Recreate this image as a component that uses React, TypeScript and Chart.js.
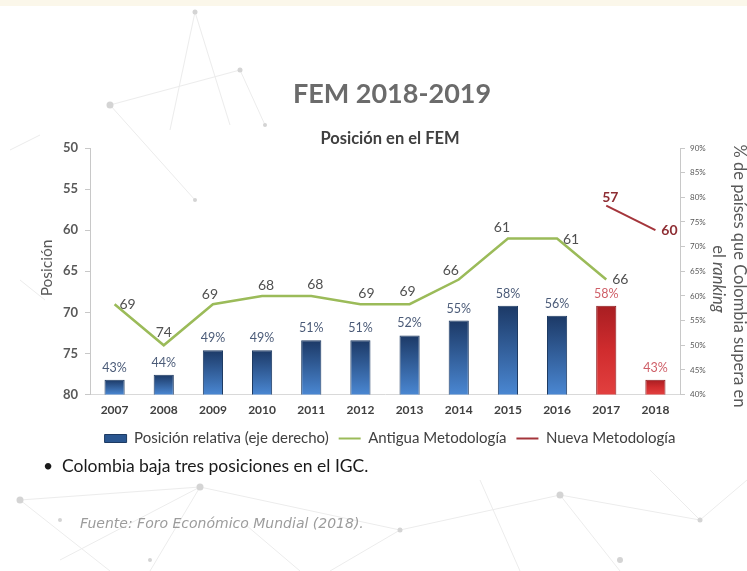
import React, { useEffect, useRef } from "react";
import { Chart, registerables } from "chart.js";

Chart.register(...registerables);

const years = ["2007", "2008", "2009", "2010", "2011", "2012", "2013", "2014", "2015", "2016", "2017", "2018"];
const posicionRelativa = [43, 44, 49, 49, 51, 51, 52, 55, 58, 56, 58, 43];
const antiguaMetodologia: (number | null)[] = [69, 74, 69, 68, 68, 69, 69, 66, 61, 61, 66, null];
const nuevaMetodologia: (number | null)[] = [null, null, null, null, null, null, null, null, null, null, 57, 60];

const seriesNames = ["Posición relativa (eje derecho)", "Antigua Metodología", "Nueva Metodología"];

// label placement (style only)
const antiguaLabelOffsets = [[13, 0], [0, -13], [-3, -10], [4, -10], [4, -11], [6, -11], [-2, -13], [-8, -9], [-6, -11], [14, 1], [14, 0], [0, 0]];
const nuevaLabelOffsets = [[0, 0], [0, 0], [0, 0], [0, 0], [0, 0], [0, 0], [0, 0], [0, 0], [0, 0], [0, 0], [4, -8], [14, 0]];

const GREEN = "#9bbb59";
const DARKRED = "#a4353b";

const labelPlugin = {
  id: "valueLabels",
  afterDatasetsDraw(chart: any) {
    const ctx = chart.ctx;
    ctx.save();
    ctx.textAlign = "center";
    ctx.textBaseline = "middle";
    chart.data.datasets.forEach((ds: any, di: number) => {
      const meta = chart.getDatasetMeta(di);
      meta.data.forEach((el: any, j: number) => {
        const v = ds.data[j];
        if (v === null || v === undefined) return;
        if (di === 0) {
          ctx.font = "12.5px Lato";
          ctx.fillStyle = j >= 10 ? "#cf5f68" : "#4b5b78";
          ctx.fillText(v + "%", el.x, el.y - 12);
        } else if (di === 1) {
          const o = antiguaLabelOffsets[j];
          ctx.font = "14px Lato";
          ctx.fillStyle = "#505050";
          ctx.fillText(String(v), el.x + o[0], el.y + o[1]);
        } else {
          const o = nuevaLabelOffsets[j];
          ctx.font = "bold 14px Lato";
          ctx.fillStyle = "#8e2d33";
          ctx.fillText(String(v), el.x + o[0], el.y + o[1]);
        }
      });
    });
    ctx.restore();
  },
};

function barFill(ctx: any) {
  const chart = ctx.chart;
  const area = chart.chartArea;
  const red = ctx.dataIndex >= 10;
  if (!area || ctx.type !== "data" || !chart.scales.y1) return red ? "#c9282c" : "#2f5f9f";
  const top = chart.scales.y1.getPixelForValue(ctx.raw);
  const g = chart.ctx.createLinearGradient(0, top, 0, area.bottom);
  if (red) {
    g.addColorStop(0, "#a81e22");
    g.addColorStop(0.5, "#d02c2e");
    g.addColorStop(1, "#e2403f");
  } else {
    g.addColorStop(0, "#1c3966");
    g.addColorStop(1, "#4a87d2");
  }
  return g;
}

function Background() {
  const lines = [
    [110, 105, 240, 70], [110, 105, 195, 200], [195, 12, 170, 130], [195, 12, 230, 125], [240, 70, 265, 125],
    [10, 150, 40, 135], [20, 280, 45, 300],
    [20, 500, 200, 487], [20, 500, 110, 571], [200, 487, 400, 530], [200, 487, 150, 571], [400, 530, 560, 495],
    [400, 530, 330, 571], [560, 495, 700, 520], [560, 495, 620, 571], [700, 520, 747, 480], [240, 520, 300, 571],
    [60, 560, 200, 487], [480, 480, 520, 571], [650, 470, 700, 520],
  ];
  const dots = [
    [110, 105, 3.5], [240, 70, 2.5], [195, 12, 2.5], [195, 200, 2], [265, 125, 2],
    [20, 500, 3.5], [200, 487, 3.5], [400, 530, 2.5], [560, 495, 3.5], [700, 520, 2.5], [150, 560, 2], [620, 560, 3], [60, 520, 2],
  ];
  return (
    <svg width={747} height={571} style={{ position: "absolute", left: 0, top: 0 }}>
      <rect x={0} y={0} width={747} height={6} fill="#fbf7ea" />
      {lines.map((l, i) => (
        <line key={i} x1={l[0]} y1={l[1]} x2={l[2]} y2={l[3]} stroke="#ececec" strokeWidth={1} />
      ))}
      {dots.map((d, i) => (
        <circle key={i} cx={d[0]} cy={d[1]} r={d[2]} fill="#d4d4d4" />
      ))}
    </svg>
  );
}

export default function App() {
  const canvasRef = useRef<HTMLCanvasElement | null>(null);

  useEffect(() => {
    if (!canvasRef.current) return;
    Chart.defaults.font.family = "Lato, 'Noto Sans', sans-serif";
    const chart = new Chart(canvasRef.current, {
      type: "bar",
      data: {
        labels: years,
        datasets: [
          {
            type: "bar",
            label: seriesNames[0],
            data: posicionRelativa,
            yAxisID: "y1",
            backgroundColor: barFill as any,
            borderColor: (c: any) => (c.dataIndex >= 10 ? "#8c1a1d" : "#1d3a62"),
            borderWidth: 1,
            categoryPercentage: 1,
            barPercentage: 0.41,
          },
          {
            type: "line",
            label: seriesNames[1],
            data: antiguaMetodologia,
            yAxisID: "y",
            borderColor: GREEN,
            backgroundColor: GREEN,
            borderWidth: 2.5,
            pointRadius: 0,
            tension: 0,
          },
          {
            type: "line",
            label: seriesNames[2],
            data: nuevaMetodologia,
            yAxisID: "y",
            borderColor: DARKRED,
            backgroundColor: DARKRED,
            borderWidth: 2,
            pointRadius: 0,
            tension: 0,
          },
        ] as any,
      },
      options: {
        animation: false,
        responsive: false,
        maintainAspectRatio: false,
        layout: { padding: { left: 60, right: 27, top: 148, bottom: 115 } },
        plugins: {
          title: { display: false },
          tooltip: { enabled: false },
          legend: {
            display: true,
            position: "bottom",
            labels: {
              usePointStyle: true,
              pointStyleWidth: 22,
              boxHeight: 8,
              padding: 10,
              color: "#404040",
              font: { size: 15, family: "Lato" },
              generateLabels: (ch: any) => {
                const items = Chart.defaults.plugins.legend.labels.generateLabels(ch);
                return items.map((it: any, i: number) => {
                  if (i === 0) {
                    return { ...it, pointStyle: "rect", fillStyle: "#2a5690", strokeStyle: "#1d3a62", lineWidth: 1 };
                  }
                  const col = i === 1 ? GREEN : DARKRED;
                  return { ...it, pointStyle: "line", strokeStyle: col, fillStyle: col, lineWidth: 2 };
                });
              },
            },
          },
        },
        scales: {
          x: {
            grid: { display: true, drawOnChartArea: false, drawTicks: false },
            border: { display: true, color: "#d9d9d9" },
            ticks: { color: "#404040", font: { size: 12, weight: "bold" }, padding: 8 },
            afterFit: (s: any) => {
              s.height = s.height - 4;
            },
          },
          y: {
            position: "left",
            reverse: true,
            min: 50,
            max: 80,
            ticks: { stepSize: 5, color: "#595959", font: { size: 13, weight: "bold" }, padding: 7 },
            grid: { display: true, drawOnChartArea: false, drawTicks: true, tickLength: 5, color: "#c8c8c8" },
            border: { display: true, color: "#c8c8c8" },
            title: { display: false },
            afterFit: (s: any) => {
              s.width = 30;
            },
          },
          y1: {
            position: "right",
            min: 40,
            max: 90,
            ticks: { stepSize: 5, color: "#595959", font: { size: 8 }, padding: 5, callback: (v: any) => v + "%" },
            grid: { display: true, drawOnChartArea: false, drawTicks: true, tickLength: 5, color: "#c8c8c8" },
            border: { display: true, color: "#c8c8c8" },
            afterFit: (s: any) => {
              s.width = 40;
            },
          },
        },
      },
      plugins: [labelPlugin],
    } as any);
    return () => chart.destroy();
  }, []);

  const abs: React.CSSProperties = { position: "absolute", whiteSpace: "nowrap", fontFamily: "Lato, sans-serif" };

  return (
    <div style={{ position: "absolute", left: 0, top: 0, width: 747, height: 571, background: "#ffffff", overflow: "hidden" }}>
      <Background />
      <canvas ref={canvasRef} width={747} height={571} style={{ position: "absolute", left: 0, top: 0, width: 747, height: 571 }} />
      <div style={{ ...abs, left: 392, top: 92, transform: "translate(-50%, -50%)", fontSize: 27, fontWeight: 700, color: "#6b6b6b" }}>
        FEM 2018-2019
      </div>
      <div style={{ ...abs, left: 390, top: 138, transform: "translate(-50%, -50%)", fontSize: 16.5, fontWeight: 700, color: "#404040" }}>
        Posición en el FEM
      </div>
      <div style={{ ...abs, left: 46, top: 268, transform: "translate(-50%, -50%) rotate(-90deg)", fontSize: 15.5, color: "#595959" }}>
        Posición
      </div>
      <div style={{ ...abs, left: 740, top: 276, transform: "translate(-50%, -50%) rotate(90deg)", fontSize: 16.5, color: "#595959" }}>
        % de países que Colombia supera en
      </div>
      <div style={{ ...abs, left: 719, top: 279, transform: "translate(-50%, -50%) rotate(90deg)", fontSize: 16.5, color: "#595959" }}>
        el <i>ranking</i>
      </div>
      <div style={{ ...abs, left: 43, top: 465, transform: "translateY(-50%)", fontSize: 17.5, color: "#1a1a1a" }}>
        •
      </div>
      <div style={{ ...abs, left: 62, top: 465, transform: "translateY(-50%)", fontSize: 17.5, color: "#1a1a1a" }}>
        Colombia baja tres posiciones en el IGC.
      </div>
      <div
        style={{
          ...abs,
          left: 80,
          top: 523,
          transform: "translateY(-50%)",
          fontSize: 14,
          fontStyle: "italic",
          color: "#9c9c9c",
          fontFamily: "'DejaVu Sans', sans-serif",
          fontWeight: 300,
        }}
      >
        Fuente: Foro Económico Mundial (2018).
      </div>
    </div>
  );
}
